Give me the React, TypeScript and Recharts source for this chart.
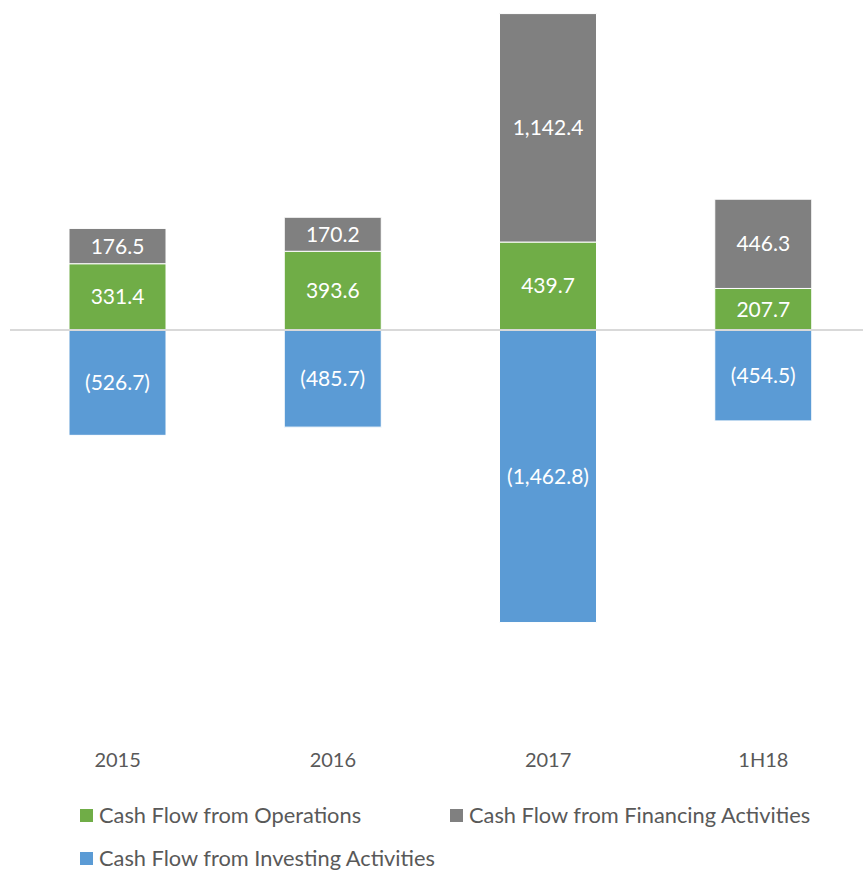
import { BarChart, Bar, XAxis, YAxis, ReferenceLine, LabelList } from 'recharts'

const categories = ['2015', '2016', '2017', '1H18']
const operations = [331.4, 393.6, 439.7, 207.7]
const financing = [176.5, 170.2, 1142.4, 446.3]
const investing = [-526.7, -485.7, -1462.8, -454.5]

const series = [
  { key: 'operations', name: 'Cash Flow from Operations', color: '#70AD47' },
  { key: 'financing', name: 'Cash Flow from Financing Activities', color: '#808080' },
  { key: 'investing', name: 'Cash Flow from Investing Activities', color: '#5B9BD5' },
]

const font = 'Lato, "Open Sans", sans-serif'

const fmt = (v: any) => {
  const n = Number(v)
  const s = Math.abs(n).toLocaleString('en-US', { minimumFractionDigits: 1, maximumFractionDigits: 1 })
  return n < 0 ? `(${s})` : s
}

export default function App() {
  const chartData = categories.map((label, i) => ({
    label,
    operations: operations[i],
    financing: financing[i],
    investing: investing[i],
  }))

  const legendRows = [
    [
      { s: series[0], left: 80 },
      { s: series[1], left: 450 },
    ],
    [{ s: series[2], left: 80 }],
  ]

  return (
    <div style={{ position: 'absolute', left: 0, top: 0, width: 863, height: 871, overflow: 'hidden', background: 'white', fontFamily: font }}>
      <BarChart
        width={871}
        height={800}
        data={chartData}
        stackOffset="sign"
        margin={{ top: 10, right: 0, bottom: 10, left: 10 }}
        barSize={97}
      >
        <XAxis
          dataKey="label"
          axisLine={false}
          tickLine={false}
          tickMargin={17}
          height={60}
          tick={{ fontSize: 20, fill: '#595959', fontFamily: font }}
        />
        <YAxis hide domain={[-2000, 1600]} allowDataOverflow />
        {series.map((s) => (
          <Bar key={s.key} dataKey={s.key} name={s.name} stackId="cf" fill={s.color} stroke="#ffffff" strokeWidth={1} isAnimationActive={false}>
            <LabelList dataKey={s.key} position="center" formatter={fmt} fill="#ffffff" fontSize={21} fontFamily={font} />
          </Bar>
        ))}
        <ReferenceLine y={0} stroke="#d9d9d9" strokeWidth={2} />
      </BarChart>
      {legendRows.map((row, r) => (
        <div key={r}>
          {row.map(({ s, left }) => (
            <div key={s.key} style={{ position: 'absolute', left, top: r === 0 ? 801 : 844, display: 'flex', alignItems: 'center', gap: 6 }}>
              <div style={{ width: 13, height: 13, background: s.color }} />
              <span style={{ fontSize: 21.8, color: '#595959', lineHeight: '28px' }}>{s.name}</span>
            </div>
          ))}
        </div>
      ))}
    </div>
  )
}
